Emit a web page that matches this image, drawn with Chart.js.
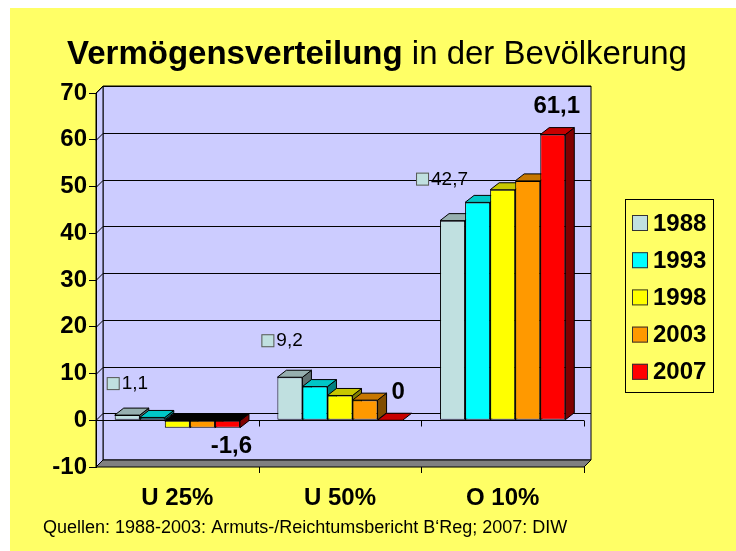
<!DOCTYPE html>
<html>
<head>
<meta charset="utf-8">
<script src="https://cdn.jsdelivr.net/npm/chart.js@4"></script>
<style>
  html, body { margin: 0; padding: 0; background: #fff; }
  canvas { display: block; }
</style>
</head>
<body>
<canvas id="chart" width="736" height="551"></canvas>
<script>
// data
const categories = ["U 25%", "U 50%", "O 10%"];
const years = ["1988", "1993", "1998", "2003", "2007"];
const values1988 = [1.1, 9.2, 42.7];
const values1993 = [0.6, 7.2, 46.6];
const values1998 = [-1.6, 5.3, 49.3];
const values2003 = [-1.6, 4.3, 51.2];
const values2007 = [-1.6, 0, 61.1];
const yearColors = ["#C0E0E0", "#00FFFF", "#FFFF00", "#FF9900", "#FF0000"];
const yMin = -10, yMax = 70, yStep = 10;

const titleBold = "Vermögensverteilung";
const titleRest = " in der Bevölkerung";
const sourceText = "Quellen: 1988-2003: Armuts-/Reichtumsbericht B\u2018Reg; 2007: DIW";

const FONT = '"Liberation Sans", Arial, sans-serif';
const WALL_DX = 7, WALL_DY = 7;
const BAR_DX = 9, BAR_DY = 7;

function shade(hex, f) {
    const n = parseInt(hex.slice(1), 16);
    const r = Math.round(((n >> 16) & 255) * f);
    const g = Math.round(((n >> 8) & 255) * f);
    const b = Math.round((n & 255) * f);
    return `rgb(${r},${g},${b})`;
}

function fmt(v) {
    return String(v).replace(".", ",");
}

function poly(ctx, pts, fill) {
    ctx.beginPath();
    ctx.moveTo(pts[0][0], pts[0][1]);
    for (let i = 1; i < pts.length; i++) ctx.lineTo(pts[i][0], pts[i][1]);
    ctx.closePath();
    ctx.fillStyle = fill;
    ctx.fill();
    ctx.stroke();
}

const allValues = [values1988, values1993, values1998, values2003, values2007];

const decor = {
    id: "decor",
    beforeDraw(chart) {
        const ctx = chart.ctx;
        const a = chart.chartArea;
        const y = chart.scales.y;
        const x = chart.scales.x;
        const L = a.left, R = a.right, T = a.top, B = a.bottom;

        ctx.save();
        ctx.fillStyle = "#fff";
        ctx.fillRect(0, 0, chart.width, chart.height);
        ctx.fillStyle = "#FFFF66";
        ctx.fillRect(10, 8, chart.width - 10, chart.height - 8);

        // title, bold first word
        ctx.fillStyle = "#000";
        ctx.textBaseline = "alphabetic";
        ctx.textAlign = "left";
        ctx.font = "bold 33px " + FONT;
        const w1 = ctx.measureText(titleBold).width;
        ctx.font = "33px " + FONT;
        const w2 = ctx.measureText(titleRest).width;
        const tx = 377 - (w1 + w2) / 2;
        ctx.font = "bold 33px " + FONT;
        ctx.fillText(titleBold, tx, 64);
        ctx.font = "33px " + FONT;
        ctx.fillText(titleRest, tx + w1, 64);

        // walls and floor
        ctx.strokeStyle = "#000";
        ctx.lineWidth = 1;
        poly(ctx, [[L + WALL_DX, T - WALL_DY], [R + WALL_DX, T - WALL_DY], [R + WALL_DX, B - WALL_DY], [L + WALL_DX, B - WALL_DY]], "#CCCCFF");
        poly(ctx, [[L, T], [L + WALL_DX, T - WALL_DY], [L + WALL_DX, B - WALL_DY], [L, B]], "#CCCCFF");
        poly(ctx, [[L, B], [L + WALL_DX, B - WALL_DY], [R + WALL_DX, B - WALL_DY], [R, B]], "#808080");

        // gridlines on the side and back wall
        ctx.beginPath();
        y.ticks.forEach(t => {
            if (t.value === yMin) return;
            const py = Math.round(y.getPixelForValue(t.value)) + 0.5;
            ctx.moveTo(L, py);
            ctx.lineTo(L + WALL_DX, py - WALL_DY);
            ctx.lineTo(R + WALL_DX, py - WALL_DY);
        });
        ctx.stroke();

        // category axis at 0 plus tick marks
        const y0 = Math.round(y.getPixelForValue(0)) + 0.5;
        ctx.beginPath();
        ctx.moveTo(L, y0);
        ctx.lineTo(R, y0);
        const n = categories.length;
        for (let i = 1; i <= n; i++) {
            const bx = Math.round(L + i * (R - L) / n) + 0.5;
            ctx.moveTo(bx, y0);
            ctx.lineTo(bx, y0 + 6);
            ctx.moveTo(bx, B);
            ctx.lineTo(bx, B + 6);
        }
        ctx.stroke();

        // category labels
        ctx.fillStyle = "#000";
        ctx.font = "bold 24px " + FONT;
        ctx.textAlign = "center";
        ctx.textBaseline = "middle";
        categories.forEach((c, i) => {
            ctx.fillText(c, x.getPixelForValue(i), 498);
        });

        // source line
        ctx.font = "18px " + FONT;
        ctx.textAlign = "left";
        ctx.fillText(sourceText, 43, 528);

        // legend
        ctx.strokeRect(625.5, 199.5, 88, 193);
        ctx.font = "bold 24px " + FONT;
        years.forEach((yr, k) => {
            const cy = 223 + k * 37.2;
            ctx.fillStyle = yearColors[k];
            ctx.fillRect(632, cy - 8, 16, 16);
            ctx.strokeStyle = "#333";
            ctx.strokeRect(632.5, cy - 7.5, 15, 15);
            ctx.fillStyle = "#000";
            ctx.fillText(yr, 653, cy + 1);
        });
        ctx.restore();
    },
    beforeDatasetsDraw(chart) {
        const ctx = chart.ctx;
        ctx.save();
        ctx.strokeStyle = "#000";
        ctx.lineWidth = 1;
        categories.forEach((c, i) => {
            chart.data.datasets.forEach((ds, d) => {
                const el = chart.getDatasetMeta(d).data[i];
                const v = ds.data[i];
                const left = el.x - el.width / 2;
                const right = el.x + el.width / 2;
                const top = Math.min(el.y, el.base);
                const bot = Math.max(el.y, el.base);
                if (bot > top) {
                    poly(ctx, [[right, top], [right + BAR_DX, top - BAR_DY], [right + BAR_DX, bot - BAR_DY], [right, bot]], shade(ds.backgroundColor, 0.5));
                }
                poly(ctx, [[left, top], [left + BAR_DX, top - BAR_DY], [right + BAR_DX, top - BAR_DY], [right, top]],
                    v < 0 ? "#000" : shade(ds.backgroundColor, 0.78));
            });
        });
        ctx.restore();
    },
    afterDatasetsDraw(chart) {
        const ctx = chart.ctx;
        ctx.save();
        ctx.textBaseline = "middle";
        // 1988 labels with legend key
        const first = chart.getDatasetMeta(0).data;
        values1988.forEach((v, i) => {
            const el = first[i];
            const bx = el.x - el.width / 2 - 8 - 8 * i;
            const cy = el.y - 32 - 5 * i;
            ctx.fillStyle = yearColors[0];
            ctx.fillRect(bx, cy - 6, 13, 13);
            ctx.strokeStyle = "#555";
            ctx.strokeRect(bx + 0.5, cy - 5.5, 12, 12);
            ctx.fillStyle = "#000";
            ctx.font = "19px " + FONT;
            ctx.textAlign = "left";
            ctx.fillText(fmt(v), bx + 15, cy + 1);
        });
        // 2007 labels in bold
        const last = chart.getDatasetMeta(4).data;
        values2007.forEach((v, i) => {
            const el = last[i];
            ctx.font = "bold 24px " + FONT;
            ctx.textAlign = "center";
            ctx.fillStyle = "#000";
            const ly = v < 0 ? el.y + 19 : el.y - 28;
            ctx.fillText(fmt(v), el.x + (v === 0 ? 8 : 4), ly);
        });
        ctx.restore();
    }
};

new Chart(document.getElementById("chart"), {
    type: "bar",
    data: {
        labels: categories,
        datasets: years.map((yr, k) => ({
            label: yr,
            data: allValues[k],
            backgroundColor: yearColors[k],
            borderColor: "#000",
            borderWidth: 1,
            borderSkipped: false,
            categoryPercentage: 0.77,
            barPercentage: 1
        }))
    },
    options: {
        responsive: false,
        animation: false,
        layout: { padding: { left: 0, top: 93, right: 736 - 584, bottom: 551 - 467 } },
        plugins: {
            legend: { display: false },
            tooltip: { enabled: false },
            title: { display: false }
        },
        scales: {
            x: { display: false },
            y: {
                min: yMin,
                max: yMax,
                ticks: {
                    stepSize: yStep,
                    color: "#000",
                    padding: 2,
                    font: { family: FONT, size: 24, weight: "bold" }
                },
                grid: { drawOnChartArea: false, drawTicks: true, tickLength: 7, color: "#000" },
                border: { display: true, color: "#000" },
                afterFit(scale) { scale.width = 96; }
            }
        }
    },
    plugins: [decor]
});
</script>
</body>
</html>
